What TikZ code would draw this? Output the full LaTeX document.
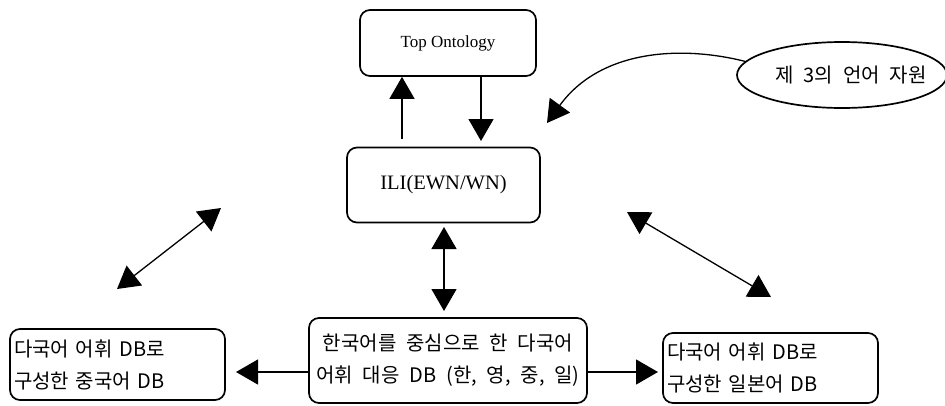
\documentclass[tikz,border=0pt]{standalone}
\usepackage{fontspec}
\setmainfont{Liberation Serif}
\newfontfamily\kr[WordSpace=2.2]{Noto Sans CJK KR}
\usetikzlibrary{arrows.meta,shapes.geometric}
\begin{document}
\begin{tikzpicture}[x=1pt,y=-1pt,
  box/.style={draw, line width=1.7pt, rounded corners=10pt, inner sep=0pt},
  krfont/.style={font=\kr\fontsize{20}{32}\selectfont},
  conn/.style={line width=1.3pt, -{Triangle[length=22pt,width=25pt]}},
  dconn/.style={line width=1.3pt, {Triangle[length=22pt,width=25pt]}-{Triangle[length=22pt,width=25pt]}}]
\useasboundingbox (0,0) rectangle (945,405);
\fill[white] (0,0) rectangle (945,405);

\node[box, minimum width=176pt, minimum height=66pt, font=\fontsize{17}{19}\selectfont] (top) at (448,43) {Top Ontology};
\node[box, minimum width=193pt, minimum height=75pt, font=\fontsize{20.5}{22}\selectfont] (ili) at (443.5,185) {ILI(EWN/WN)};

\node[box, krfont, minimum width=278pt, minimum height=85pt, align=center] (cen) at (448,360.5) {한국어를 중심으로 한 다국어\\어휘 대응 DB (한, 영, 중, 일)};
\node[box, krfont, minimum width=215pt, minimum height=71pt, align=left, text width=207pt] (left) at (117.5,364.5) {다국어 어휘 DB로\\구성한 중국어 DB};
\node[box, krfont, minimum width=215pt, minimum height=70pt, align=left, text width=207pt] (right) at (770.5,368) {다국어 어휘 DB로\\구성한 일본어 DB};

\node[draw, ellipse, line width=1.7pt, minimum width=210pt, minimum height=66pt, inner xsep=-16pt, inner ysep=0pt, font=\kr\fontsize{20}{22}\selectfont] (ell) at (842,75) {\hspace*{18pt}제 3의 언어 자원};

% vertical arrows between Top Ontology and ILI
\coordinate (upbase) at (402,139);
\coordinate (downtip) at (481,141);
\draw[conn] (upbase) -- (upbase |- top.south);
\draw[conn] (downtip |- top.south) -- (downtip);

% curved arrow from the third language resource
\coordinate (curvetip) at (547,123);
\draw[conn] (ell.172) .. controls (680,45) and (600,50) .. (curvetip);

% ILI <-> centre
\coordinate (ilib) at (444,227);
\coordinate (cent) at (444,311);
\draw[dconn] (ilib) -- (cent);

% diagonals
\coordinate (la) at (117,289);
\coordinate (lb) at (221,208);
\draw[dconn] (la) -- (lb);
\coordinate (ra) at (627,212);
\coordinate (rb) at (771,297);
\draw[dconn] (ra) -- (rb);

% centre to side boxes
\coordinate (ltip) at (236,372);
\coordinate (rtip) at (658,372);
\draw[conn] (cen.west |- ltip) -- (ltip);
\draw[conn] (cen.east |- rtip) -- (rtip);
\end{tikzpicture}
\end{document}
